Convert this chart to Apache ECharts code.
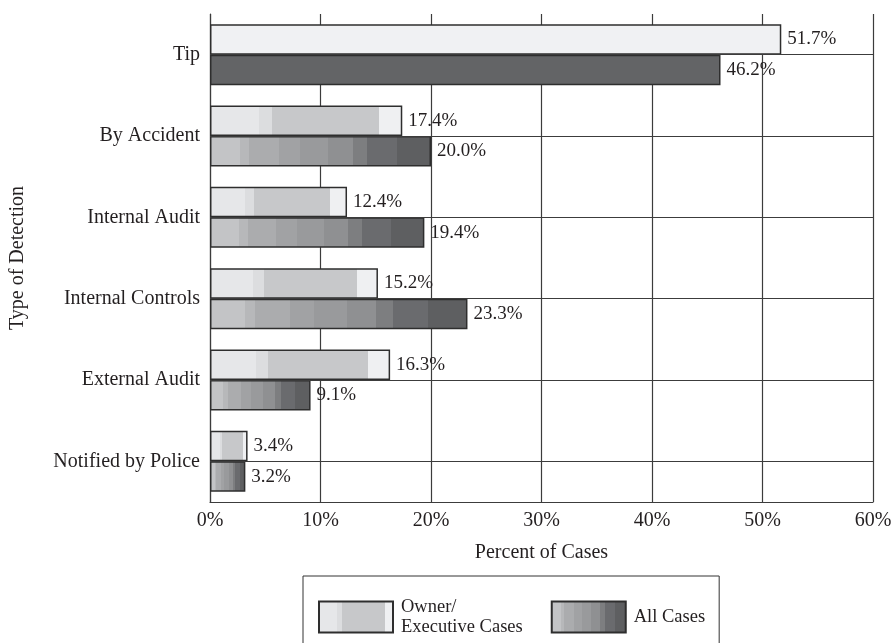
<!DOCTYPE html>
<html>
<head>
<meta charset="utf-8">
<script src="https://cdn.jsdelivr.net/npm/echarts@6/dist/echarts.min.js"></script>
<style>
  html, body { margin: 0; padding: 0; background: #ffffff; }
  #chart { width: 895px; height: 643px; }
</style>
</head>
<body>
<div id="chart"></div>
<script>
// ---- data ----
var categories = ['Tip', 'By Accident', 'Internal Audit', 'Internal Controls', 'External Audit', 'Notified by Police'];
var ownerValues = [51.7, 17.4, 12.4, 15.2, 16.3, 3.4];
var allValues = [46.2, 20.0, 19.4, 23.3, 9.1, 3.2];
var xTicks = [0, 10, 20, 30, 40, 50, 60];
var seriesNames = ['Owner/\nExecutive Cases', 'All Cases'];

// ---- styles ----
var FONT = 'Liberation Serif';
var TEXT = '#231f20';
var LINE = '#3c3c3c';

function stepGradient(steps) {
  var stops = [];
  for (var i = 0; i < steps.length; i++) {
    stops.push({ offset: steps[i][0], color: steps[i][2] });
    stops.push({ offset: steps[i][1], color: steps[i][2] });
  }
  return new echarts.graphic.LinearGradient(0, 0, 1, 0, stops);
}

var ownerGrad = stepGradient([
  [0, 0.255, '#e6e7e9'],
  [0.255, 0.32, '#dcdddf'],
  [0.32, 0.878, '#c7c8ca'],
  [0.878, 1, '#eff0f2']
]);
var allGrad = stepGradient([
  [0, 0.134, '#c3c4c6'],
  [0.134, 0.175, '#b7b8ba'],
  [0.175, 0.31, '#abacae'],
  [0.31, 0.405, '#a1a2a4'],
  [0.405, 0.532, '#999a9c'],
  [0.532, 0.645, '#8f9092'],
  [0.645, 0.71, '#7d7e80'],
  [0.71, 0.845, '#6a6b6e'],
  [0.845, 1, '#5e5f61']
]);

function buildData(values, tipColor) {
  return values.map(function (v, i) {
    if (i === 0) return { value: v, itemStyle: { color: tipColor } };
    return v;
  });
}

var labelStyle = {
  show: true,
  position: 'right',
  distance: 6,
  fontFamily: FONT,
  fontSize: 19,
  color: TEXT,
  formatter: function (p) { return p.value.toFixed(1) + '%'; }
};

var chart = echarts.init(document.getElementById('chart'));
chart.setOption({
  animation: false,
  backgroundColor: '#ffffff',
  textStyle: { fontFamily: FONT, color: TEXT },
  grid: { left: 208, right: 22, top: 14, bottom: 141, containLabel: false },
  legend: {
    left: 303,
    top: 576,
    orient: 'horizontal',
    icon: 'rect',
    itemWidth: 74,
    itemHeight: 31,
    itemGap: 28,
    padding: [21, 14, 21, 15],
    borderColor: '#333333',
    borderWidth: 1,
    textStyle: { fontFamily: FONT, fontSize: 18.5, color: TEXT, lineHeight: 20, padding: [0, 0, 0, 3] },
    data: seriesNames
  },
  xAxis: {
    type: 'value',
    min: xTicks[0],
    max: xTicks[xTicks.length - 1],
    interval: xTicks[1] - xTicks[0],
    name: 'Percent of Cases',
    nameLocation: 'middle',
    nameGap: 41,
    nameTextStyle: { fontFamily: FONT, fontSize: 20, color: TEXT },
    axisLine: { show: true, lineStyle: { color: LINE, width: 1.2 } },
    axisTick: { show: false },
    axisLabel: { fontFamily: FONT, fontSize: 20, color: TEXT, margin: 9, formatter: '{value}%' },
    splitLine: { show: true, lineStyle: { color: LINE, width: 1.2 } }
  },
  yAxis: {
    type: 'category',
    inverse: true,
    data: categories,
    name: 'Type of Detection',
    nameLocation: 'middle',
    nameGap: 182,
    nameRotate: 90,
    nameTextStyle: { fontFamily: FONT, fontSize: 20, color: TEXT },
    axisLine: { show: true, lineStyle: { color: LINE, width: 1.2 } },
    axisTick: { show: false },
    axisLabel: { fontFamily: FONT, fontSize: 20, color: TEXT, margin: 10 },
    splitLine: { show: false }
  },
  series: [
    {
      name: seriesNames[0],
      type: 'bar',
      barGap: '0%',
      barCategoryGap: '25%',
      data: buildData(ownerValues, '#f0f1f3'),
      itemStyle: { color: ownerGrad, borderColor: '#2e2e2e', borderWidth: 1.5 },
      label: labelStyle
    },
    {
      name: seriesNames[1],
      type: 'bar',
      barGap: '0%',
      barCategoryGap: '25%',
      data: buildData(allValues, '#636466'),
      itemStyle: { color: allGrad, borderColor: '#2e2e2e', borderWidth: 1.5 },
      label: labelStyle
    },
    {
      name: 'gridlines',
      type: 'line',
      data: categories.map(function () { return null; }),
      symbol: 'none',
      lineStyle: { opacity: 0 },
      silent: true,
      z: 3,
      markLine: {
        silent: true,
        symbol: 'none',
        animation: false,
        label: { show: false },
        lineStyle: { color: LINE, width: 1.2, type: 'solid' },
        data: categories.map(function (c) { return { yAxis: c }; })
      }
    }
  ]
});
</script>
</body>
</html>
